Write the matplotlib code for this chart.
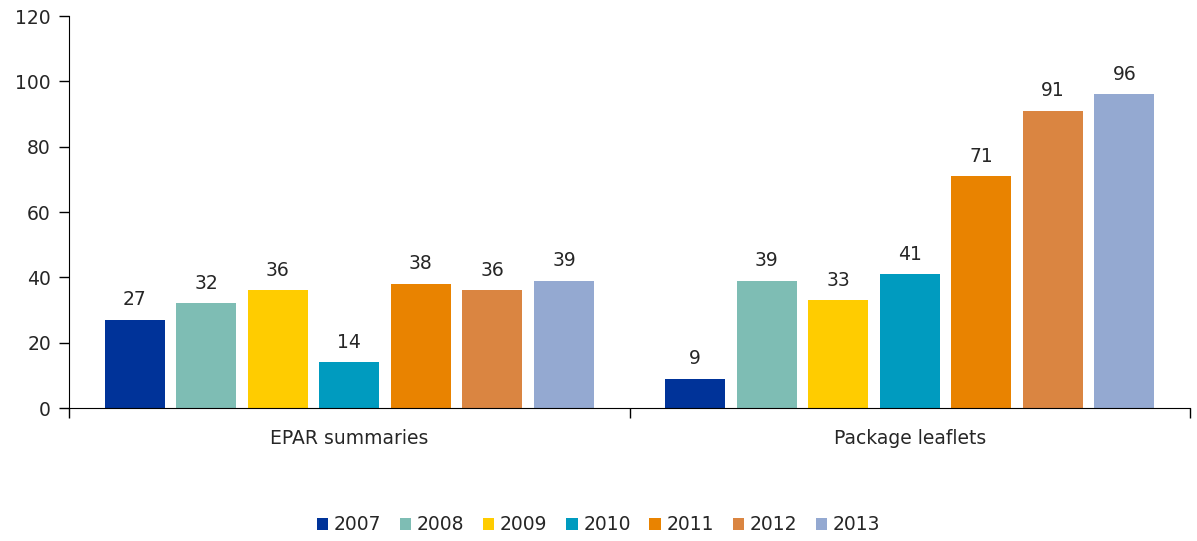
import numpy as np
import matplotlib.pyplot as plt

categories = ["EPAR summaries", "Package leaflets"]
years = ["2007", "2008", "2009", "2010", "2011", "2012", "2013"]
epar = [27, 32, 36, 14, 38, 36, 39]
leaflets = [9, 39, 33, 41, 71, 91, 96]
colors = ["#003399", "#7EBDB4", "#FFCC00", "#009BBF", "#E98300", "#DA8541", "#94A9D1"]

plt.rcParams['font.family'] = ['DejaVu Sans']
txt = '#262626'

fig = plt.figure(figsize=(11.97, 5.41), dpi=100)
ax = fig.add_axes([69 / 1197, 1 - 408 / 541, (1190 - 69) / 1197, (408 - 16) / 541])

step = 0.1277
width = 0.107
x = np.arange(len(categories))
for i, yr in enumerate(years):
    vals = [epar[i], leaflets[i]]
    pos = x + (i - 3) * step
    bars = ax.bar(pos, vals, width=width, color=colors[i], label=yr)
    for b, v in zip(bars, vals):
        ax.text(b.get_x() + b.get_width() / 2, v + 3.2, str(v),
                ha='center', va='bottom', fontsize=13.5, color=txt)

ax.set_xlim(-0.5, 1.5)
ax.set_ylim(0, 120)
ax.set_yticks(range(0, 121, 20))
ax.tick_params(axis='y', labelsize=13.5, length=7, direction='out', width=1,
               pad=6, labelcolor=txt)
ax.set_xticks([-0.5, 0.5, 1.5])
ax.set_xticklabels([])
ax.set_xticks(x, minor=True)
ax.set_xticklabels(categories, minor=True, fontsize=13.5, color=txt)
ax.tick_params(axis='x', which='major', length=7, direction='out', width=1)
ax.tick_params(axis='x', which='minor', length=0, pad=15)
for s in ['top', 'right']:
    ax.spines[s].set_visible(False)

handles, labels = ax.get_legend_handles_labels()
fig.legend(handles, labels, loc='center', bbox_to_anchor=(0.5, 1 - 525 / 541),
           ncol=7, frameon=False, fontsize=13.5, handlelength=0.6,
           handleheight=0.6, handletextpad=0.3, columnspacing=1.0,
           labelcolor=txt)

fig.savefig("out.png", dpi=100)
